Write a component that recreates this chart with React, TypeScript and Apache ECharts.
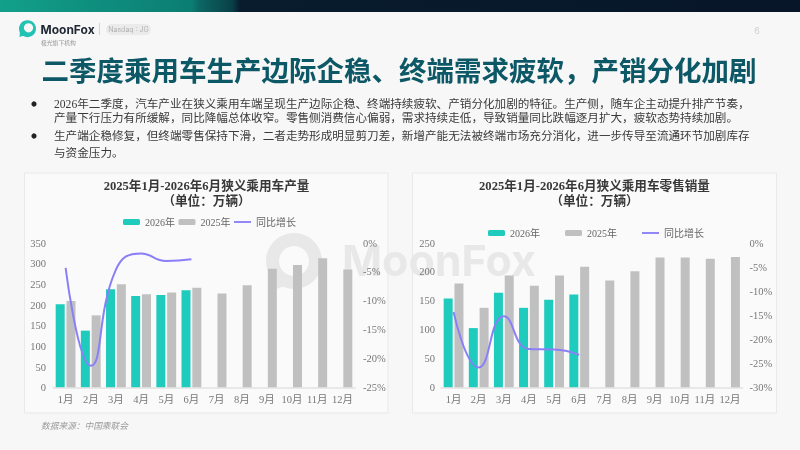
import React, { useEffect, useRef } from "react";
import * as echarts from "echarts";

const months = ["1月", "2月", "3月", "4月", "5月", "6月", "7月", "8月", "9月", "10月", "11月", "12月"];
const prod2026 = [202, 138, 238, 222, 224, 236, null, null, null, null, null, null];
const prod2025 = [210, 175, 250, 226, 230, 242, 228, 248, 288, 297, 313, 286];
const prodYoY = [-4.3, -21.2, -4.6, -1.8, -3.1, -2.8];
const retail2026 = [154, 103, 164, 138, 152, 161, null, null, null, null, null, null];
const retail2025 = [180, 138, 194, 176, 194, 209, 185, 201, 225, 225, 223, 226];
const retailYoY = [-14.3, -25.8, -15.2, -22.0, -22.1, -23.2];

const leftTitle = ["2025年1月-2026年6月狭义乘用车产量", "（单位：万辆）"];
const rightTitle = ["2025年1月-2026年6月狭义乘用车零售销量", "（单位：万辆）"];
const pageTitle = "二季度乘用车生产边际企稳、终端需求疲软，产销分化加剧";
const bulletLines = [
  "2026年二季度，汽车产业在狭义乘用车端呈现生产边际企稳、终端持续疲软、产销分化加剧的特征。生产侧，随车企主动提升排产节奏，",
  "产量下行压力有所缓解，同比降幅总体收窄。零售侧消费信心偏弱，需求持续走低，导致销量同比跌幅逐月扩大，疲软态势持续加剧。",
  "生产端企稳修复，但终端零售保持下滑，二者走势形成明显剪刀差，新增产能无法被终端市场充分消化，进一步传导至流通环节加剧库存",
  "与资金压力。",
];
const sourceText = "数据来源：中国乘联会";

const SERIF = "'Liberation Serif','Noto Sans CJK SC',serif";
const SANS = "'Noto Sans CJK SC','Noto Sans',sans-serif";
const TEAL = "#1fcbbd";
const GRAY = "#c0c0c0";
const PURPLE = "#8b7ff7";

function txt(text: string, x: number, y: number, opts: any = {}) {
  return {
    type: "text",
    z: opts.z ?? 10,
    style: {
      text,
      x,
      y,
      fill: opts.fill ?? "#333",
      fontSize: opts.fontSize ?? 12,
      fontFamily: opts.fontFamily ?? SERIF,
      fontWeight: opts.fontWeight ?? "normal",
      fontStyle: opts.fontStyle ?? "normal",
      textAlign: opts.align ?? "left",
      textVerticalAlign: "middle",
    },
  };
}

export default function App() {
  const ref = useRef<HTMLDivElement>(null);
  useEffect(() => {
    if (!ref.current) return;
    const chart = echarts.init(ref.current, undefined, { renderer: "svg" });
    const axisLabel = { color: "#777", fontSize: 10.5, fontFamily: SERIF };
    const xAxisBase = {
      type: "category",
      data: months,
      z: 5,
      axisTick: { show: false },
      axisLine: { lineStyle: { color: "#e2e2e2", width: 1.5 } },
      axisLabel: { ...axisLabel, margin: 7, interval: 0 },
    };
    const valAxis = (min: number, max: number, interval: number, pct: boolean, gridIndex: number, margin: number) => ({
      type: "value",
      gridIndex,
      z: 5,
      min,
      max,
      interval,
      splitLine: { show: false },
      axisLine: { show: false },
      axisTick: { show: false },
      axisLabel: { ...axisLabel, margin, formatter: pct ? "{value}%" : "{value}" },
    });
    const barBase = { type: "bar", barWidth: 9, barGap: "20%", z: 3 };
    const lineBase = {
      type: "line",
      smooth: true,
      symbol: "none",
      lineStyle: { color: PURPLE, width: 2 },
      itemStyle: { color: PURPLE },
      z: 6,
    };
    const legendBase = {
      itemWidth: 17,
      itemHeight: 6,
      padding: 0,
      textStyle: { color: "#666", fontSize: 10, fontFamily: SERIF },
      data: ["2026年", "2025年", { name: "同比增长", icon: "path://M0,0H20V2.2H0Z" }],
    };

    const graphic: any[] = [
      { type: "rect", z: 0, shape: { x: 0, y: 0, width: 800, height: 450 }, style: { fill: "#f7f7f7" } },
      // panels
      { type: "rect", z: 0, shape: { x: 24.5, y: 173, width: 363.5, height: 240 }, style: { fill: "#fafafa", stroke: "#e9e9e9", lineWidth: 1 } },
      { type: "rect", z: 0, shape: { x: 412.5, y: 173, width: 364, height: 240 }, style: { fill: "#fafafa", stroke: "#e9e9e9", lineWidth: 1 } },
      // watermark
      { type: "ring", z: 1, shape: { cx: 294, cy: 261, r: 28, r0: 15 }, style: { fill: "#e8e8e8" } },
      { type: "polygon", z: 1, shape: { points: [[270, 272], [268, 292], [285, 286]] }, style: { fill: "#e8e8e8" } },
      txt("MoonFox", 342, 260, { fontFamily: "Inter, 'Noto Sans', sans-serif", fontWeight: "bold", fontSize: 43, fill: "#e8e8e8", z: 1 }),
      {
        type: "rect",
        z: 3,
        shape: { x: 0, y: 0, width: 800, height: 12 },
        style: {
          fill: new echarts.graphic.LinearGradient(0, 0, 1, 0, [
            { offset: 0, color: "#12a08a" },
            { offset: 0.24, color: "#0b7d72" },
            { offset: 0.25, color: "#0c6662" },
            { offset: 0.29, color: "#0a4048" },
            { offset: 0.3, color: "#081c2e" },
            { offset: 1, color: "#071628" },
          ]),
        },
      },
      // header logo
      { type: "circle", z: 3, shape: { cx: 27.5, cy: 28.7, r: 8.5 }, style: { fill: "#22c3b3" } },
      { type: "polygon", z: 3, shape: { points: [[20, 31], [19.5, 37], [25, 35]] }, style: { fill: "#22c3b3" } },
      { type: "circle", z: 4, shape: { cx: 28.5, cy: 27.8, r: 4.6 }, style: { fill: "#f7f7f7" } },
      txt("MoonFox", 40.5, 29, { fontFamily: "Inter, 'Noto Sans', sans-serif", fontWeight: "bold", fontSize: 12, fill: "#1f2733" }),
      txt("极光旗下机构", 41, 42.5, { fontFamily: SANS, fontSize: 5.8, fill: "#999" }),
      { type: "line", z: 3, shape: { x1: 99.5, y1: 23, x2: 99.5, y2: 35 }, style: { stroke: "#d4d4d4", lineWidth: 1 } },
      { type: "rect", z: 3, shape: { x: 106, y: 24, width: 45, height: 11, r: 5.5 }, style: { fill: "#ebebeb" } },
      txt("Nasdaq : JG", 128.5, 29.7, { fontFamily: "Inter, sans-serif", fontSize: 7, fill: "#b2b2b2", align: "center" }),
      txt("6", 757, 30.5, { fontFamily: "Inter, sans-serif", fontSize: 9, fill: "#cfcfcf", align: "center" }),
      txt(pageTitle, 41.5, 68.5, { fontFamily: SANS, fontSize: 27.5, fontWeight: "bold", fill: "#0d5866" }),
      // bullets
      { type: "circle", z: 3, shape: { cx: 34, cy: 104, r: 2.6 }, style: { fill: "#222" } },
      { type: "circle", z: 3, shape: { cx: 34, cy: 136, r: 2.6 }, style: { fill: "#222" } },
      txt(bulletLines[0], 54, 104, { fontSize: 11.6, fill: "#3a3a3a" }),
      txt(bulletLines[1], 54, 118.5, { fontSize: 11.6, fill: "#3a3a3a" }),
      txt(bulletLines[2], 54, 136, { fontSize: 11.6, fill: "#3a3a3a" }),
      txt(bulletLines[3], 54, 153.5, { fontSize: 11.6, fill: "#3a3a3a" }),
      // chart titles
      txt(leftTitle[0], 206.5, 185.5, { fontSize: 12.6, fontWeight: "bold", fill: "#383838", align: "center" }),
      txt(leftTitle[1], 206.5, 200.7, { fontSize: 12.6, fontWeight: "bold", fill: "#383838", align: "center" }),
      txt(rightTitle[0], 594.5, 185.5, { fontSize: 12.6, fontWeight: "bold", fill: "#383838", align: "center" }),
      txt(rightTitle[1], 594.5, 200.7, { fontSize: 12.6, fontWeight: "bold", fill: "#383838", align: "center" }),
      txt(sourceText, 41, 425, { fontFamily: SANS, fontSize: 8.7, fontStyle: "italic", fill: "#9a9a9a" }),
    ];

    chart.setOption({
      animation: false,
      graphic,
      legend: [
        { ...legendBase, left: 123, top: 217, itemGap: 3.5 },
        { ...legendBase, left: 488, top: 228, itemGap: 25 },
      ],
      grid: [
        { left: 53, right: 445, top: 243, bottom: 62.3 },
        { left: 441, right: 57.4, top: 243, bottom: 62.3 },
      ],
      xAxis: [
        { ...xAxisBase, gridIndex: 0 },
        { ...xAxisBase, gridIndex: 1 },
      ],
      yAxis: [
        valAxis(0, 350, 50, false, 0, 7),
        valAxis(-25, 0, 5, true, 0, 8),
        valAxis(0, 250, 50, false, 1, 6),
        valAxis(-30, 0, 5, true, 1, 7),
      ],
      series: [
        { ...barBase, name: "2026年", xAxisIndex: 0, yAxisIndex: 0, data: prod2026, itemStyle: { color: TEAL } },
        { ...barBase, name: "2025年", xAxisIndex: 0, yAxisIndex: 0, data: prod2025, itemStyle: { color: GRAY } },
        { ...lineBase, name: "同比增长", xAxisIndex: 0, yAxisIndex: 1, data: prodYoY },
        { ...barBase, name: "2026年", xAxisIndex: 1, yAxisIndex: 2, data: retail2026, itemStyle: { color: TEAL } },
        { ...barBase, name: "2025年", xAxisIndex: 1, yAxisIndex: 2, data: retail2025, itemStyle: { color: GRAY } },
        { ...lineBase, name: "同比增长", xAxisIndex: 1, yAxisIndex: 3, data: retailYoY },
      ],
    });
    return () => chart.dispose();
  }, []);
  return <div ref={ref} style={{ position: "fixed", left: 0, top: 0, width: 800, height: 450 }} />;
}
